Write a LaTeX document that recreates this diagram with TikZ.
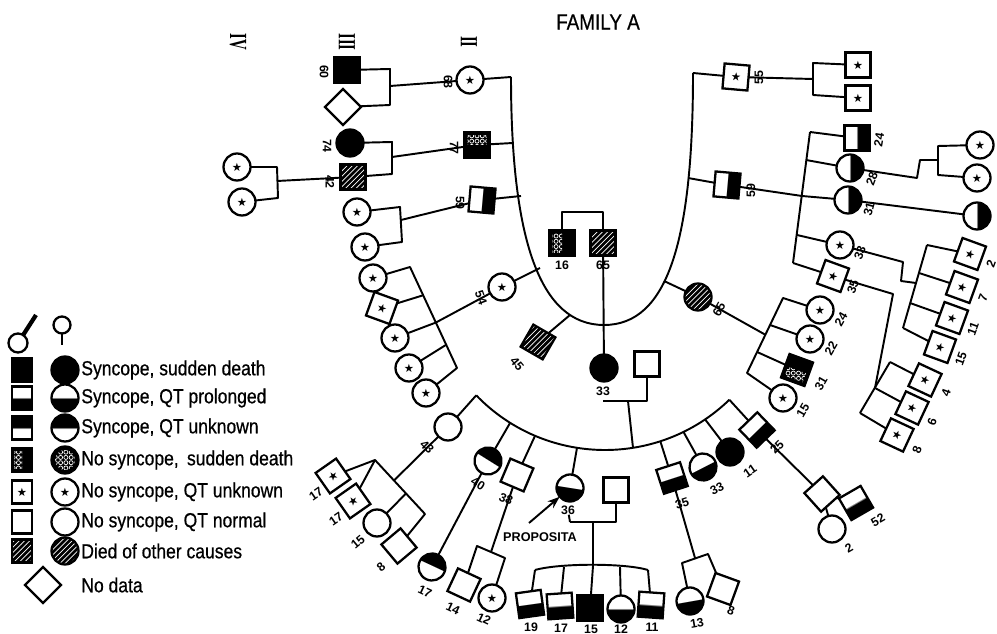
\documentclass[tikz,border=0pt]{standalone}
\usepackage{fontspec}
\setmainfont{Liberation Sans}
\newfontfamily\symfont{DejaVu Sans}
\newfontfamily\legfont{Liberation Sans}[FakeStretch=0.86, FakeBold=0.6]
\newfontfamily\genfont{Liberation Serif}
\usetikzlibrary{arrows.meta,shapes.geometric,patterns,patterns.meta,calc}

% half filled symbols
\pgfdeclareverticalshading{botblack}{100bp}{color(0bp)=(black); color(49.9bp)=(black); color(50.1bp)=(white); color(100bp)=(white)}
\pgfdeclareverticalshading{topblack}{100bp}{color(0bp)=(white); color(49.9bp)=(white); color(50.1bp)=(black); color(100bp)=(black)}

\tikzdeclarepattern{
  name=rings,
  type=uncolored,
  bottom left={(-.5pt,-.5pt)},
  top right={(3.5pt,3.5pt)},
  tile size={(3pt,3pt)},
  code={\draw[line width=.4pt] (1.5pt,1.5pt) circle [radius=1.15pt];}
}

\newcommand{\st}{{\symfont\fontsize{6.5}{6.5}\selectfont ★}}
\newcommand{\hexleft}[1]{\fill[pattern=rings, pattern color=white]
  ($(#1.north west)!.12!(#1.south east)$) -- ($(#1.north)!.12!(#1.south)$) --
  ($(#1.south)!.12!(#1.north)$) -- ($(#1.south west)!.12!(#1.north east)$) -- cycle;}
\newcommand{\gennum}[1]{\scalebox{0.6}[1]{#1}}

\begin{document}
\begin{tikzpicture}[x=0.02cm, y=0.02cm, yscale=-1,
    sym/.style={draw, line width=1.3pt, inner sep=0pt, outer sep=0pt},
    sq/.style={sym, rectangle, minimum size=0.5cm},
    legsq/.style={sym, rectangle, minimum width=0.4cm, minimum height=0.46cm},
    ci/.style={sym, circle, minimum size=0.54cm},
    dm/.style={sym, diamond, minimum size=0.72cm},
    dead/.style={fill=black},
    qtp/.style={shade, shading=botblack},
    qtu/.style={shade, shading=topblack},
    hex/.style={fill=black},
    other/.style={preaction={fill=black}, pattern=north east lines, pattern color=white},
    tilt/.style={rotate=#1, shading angle=#1},
    lab/.style={font=\bfseries\fontsize{7}{7}\selectfont, inner sep=0pt},
    gen/.style={font=\genfont\bfseries\fontsize{14}{14}\selectfont, inner sep=0pt, rotate=-90},
    link/.style={line width=1.1pt, line join=round},
    legtext/.style={anchor=west, font=\legfont\fontsize{11.6}{13}\selectfont, inner sep=0pt}
  ]
  \useasboundingbox (0,0) rectangle (997,634);

  % title and generations
  \node[font=\legfont\fontsize{12.5}{13}\selectfont] (title) at (598,22) {FAMILY A};
  \node[gen] (gIV) at (238,42) {\gennum{IV}};
  \node[gen] (gIII) at (347,42) {\gennum{III}};
  \node[gen] (gII) at (469,42) {\gennum{II}};

  % legend
  \node[sym, circle, minimum size=0.38cm] (lgm) at (18,343) {};
  \coordinate (lgmt) at (36,315);
  \draw[line width=2.4pt] (lgm) -- (lgmt);
  \node[sym, circle, minimum size=0.34cm] (lgf) at (62,325) {};
  \coordinate (lgfb) at (62,345);
  \draw[link] (lgf) -- (lgfb);
  \node[legsq, dead] (ls1) at (22,370) {};
  \node[ci, dead] (lc1) at (65,370) {};
  \node[legtext] (lt1) at (81,370) {Syncope, sudden death};
  \node[legsq, qtp] (ls2) at (22,398) {};
  \node[ci, qtp] (lc2) at (65,398) {};
  \node[legtext] (lt2) at (81,398) {Syncope, QT prolonged};
  \node[legsq, qtu] (ls3) at (22,428) {};
  \node[ci, qtu] (lc3) at (65,428) {};
  \node[legtext] (lt3) at (81,428) {Syncope, QT unknown};
  \node[legsq, hex] (ls4) at (22,460) {};
  \hexleft{ls4}
  \node[ci, hex] (lc4) at (65,460) {};
  \fill[pattern=rings, pattern color=white] (lc4) circle [radius=10];
  \node[legtext] (lt4) at (81,460) {No syncope,\, sudden death};
  \node[legsq] (ls5) at (22,492) {\st};
  \node[ci] (lc5) at (65,492) {\st};
  \node[legtext] (lt5) at (81,492) {No syncope, QT unknown};
  \node[legsq] (ls6) at (22,522) {};
  \node[ci] (lc6) at (65,522) {};
  \node[legtext] (lt6) at (81,522) {No syncope, QT normal};
  \node[legsq, other] (ls7) at (22,551) {};
  \node[ci, other] (lc7) at (65,551) {};
  \node[legtext] (lt7) at (81,551) {Died of other causes};
  \node[dm] (ld8) at (43,585) {};
  \node[legtext] (lt8) at (81,585) {No data};

  % generation I and the U of generation II
  \node[sq, hex] (p16) at (562,243) {};
  \hexleft{p16}
  \node[sq, other] (p65) at (603,243) {};
  \coordinate (m1) at (583,212);
  \draw[link] (p16.north) |- (m1) -| (p65.north);
  \node[lab] (l16) at (562,265) {16};
  \node[lab] (l65) at (603,265) {65};
  \coordinate (uL) at (511,77);
  \coordinate (ub) at (604,325);
  \coordinate (uR) at (693,73);
  \draw[link] (uL) .. controls (511,240) and (540,325) .. (ub)
                   .. controls (668,325) and (693,240) .. (uR);
  \coordinate (u74) at (513,143);
  \coordinate (u59) at (521,196);
  \coordinate (u54) at (540,268);
  \coordinate (u45) at (570,315);
  \coordinate (u59r) at (688,178);
  \coordinate (u62) at (664,281);

  % left side, generations II to IV
  \node[ci] (p68) at (470,80) {\st};
  \node[lab, rotate=-90] (l68) at (448,82) {68};
  \node[sq, dead] (pA) at (347,70) {};
  \node[lab, rotate=-90] (lA) at (324,72) {60};
  \node[dm] (dA) at (343,107) {};
  \coordinate (cA1) at (390,69);
  \coordinate (cA2) at (390,105);
  \coordinate (cA3) at (390,86);
  \draw[link] (pA) -- (cA1) -- (cA2) -- (dA);
  \draw[link] (cA3) -- (p68);
  \draw[link] (p68) -- (uL);

  \node[sq, hex, rotate=-90] (p77) at (477,145) {};
  \hexleft{p77}
  \node[lab, rotate=-90] (l77) at (454,148) {77};
  \node[ci, dead] (pB) at (350,143) {};
  \node[lab, rotate=-90] (lB) at (327,146) {74};
  \node[sq, other] (pB2) at (353,177) {};
  \node[lab, rotate=-90] (lB2) at (330,182) {42};
  \coordinate (cB1) at (392,142);
  \coordinate (cB2) at (392,174);
  \coordinate (cB3) at (392,157);
  \draw[link] (pB) -- (cB1) -- (cB2) -- (pB2);
  \draw[link] (cB3) -- (p77);
  \draw[link] (p77) -- (u74);
  \node[ci] (q1) at (237,167) {\st};
  \node[ci] (q2) at (242,202) {\st};
  \coordinate (cC1) at (277,167);
  \coordinate (cC2) at (278,198);
  \coordinate (cC3) at (277,181);
  \draw[link] (q1) -- (cC1) -- (cC2) -- (q2);
  \draw[link] (cC3) -- (pB2);

  \node[sq, qtu, tilt=-95] (p59) at (482,200) {};
  \node[lab, rotate=-90] (l59) at (460,203) {59};
  \node[ci] (q3) at (357,212) {\st};
  \node[ci] (q4) at (365,247) {\st};
  \coordinate (cD1) at (400,207);
  \coordinate (cD2) at (402,242);
  \coordinate (cD3) at (401,220);
  \draw[link] (q3) -- (cD1) -- (cD2) -- (q4);
  \draw[link] (cD3) -- (p59);
  \draw[link] (p59) -- (u59);

  \node[ci] (p54) at (502,287) {\st};
  \node[lab, rotate=-70] (l54) at (481,298) {54};
  \draw[link] (p54) -- (u54);
  \node[ci] (q5) at (373,278) {\st};
  \node[sq, rotate=-20] (q6) at (382,308) {\st};
  \node[ci] (q7) at (395,338) {\st};
  \node[ci] (q8) at (409,368) {\st};
  \node[ci] (q9) at (426,393) {\st};
  \coordinate (g0) at (410,267);
  \coordinate (g1) at (457,368);
  \draw[link] (q5) -- (g0) -- (g1) -- (q9);
  \path (g0) -- (g1) coordinate[pos=.28] (g6) coordinate[pos=.55] (g7) coordinate[pos=.77] (g8);
  \draw[link] (g6) -- (q6);
  \draw[link] (g7) -- (q7);
  \draw[link] (g8) -- (q8);
  \draw[link] (p54) -- (g7);

  \node[dm, other, rotate=15] (p45) at (538,342) {};
  \node[lab, rotate=-50] (l45) at (517,364) {45};
  \draw[link] (p45) -- (u45);

  % right side, generations II to IV
  \node[sq, rotate=-5] (p55) at (736,77) {\st};
  \node[lab, rotate=90] (l55) at (759,78) {55};
  \draw[link] (uR) -- (p55);
  \coordinate (b55) at (813,79);
  \coordinate (b55t) at (813,63);
  \coordinate (b55b) at (813,95);
  \node[sq] (c55a) at (858,65) {\st};
  \node[sq] (c55b) at (858,98) {\st};
  \draw[link] (p55) -- (b55);
  \draw[link] (c55a) -- (b55t) -- (b55b) -- (c55b);

  \node[sq, qtu, tilt=-95] (p59r) at (727,185) {};
  \node[lab, rotate=90] (l59r) at (751,191) {59};
  \draw[link] (u59r) -- (p59r);
  \coordinate (s59t) at (810,132);
  \coordinate (s59b) at (793,263);
  \coordinate (j28) at (806,160);
  \coordinate (j3) at (802,196);
  \coordinate (j33) at (797,235);
  \draw[link] (s59t) -- (s59b);
  \draw[link] (p59r) -- (j3);
  \node[sq, qtu, tilt=-90] (c24) at (857,138) {};
  \node[ci, qtu, tilt=-90] (c28) at (850,168) {};
  \node[ci, qtu, tilt=-90] (c3) at (848,200) {};
  \node[ci] (c33r) at (840,245) {\st};
  \node[sq, rotate=-20] (c35r) at (833,276) {\st};
  \draw[link] (s59t) -- (c24);
  \draw[link] (j28) -- (c28);
  \draw[link] (j3) -- (c3);
  \draw[link] (j33) -- (c33r);
  \draw[link] (s59b) -- (c35r);
  \node[lab, rotate=80] (l24) at (879,140) {24};
  \node[lab, rotate=70] (l28) at (872,179) {28};
  \node[lab, rotate=75] (l3) at (869,209) {31};
  \node[lab, rotate=70] (l33r) at (860,253) {33};
  \node[lab, rotate=70] (l35r) at (853,287) {35};

  \coordinate (m28a) at (917,178);
  \coordinate (m28b) at (920,160);
  \coordinate (m28c) at (938,160);
  \coordinate (b28t) at (938,146);
  \coordinate (b28b) at (938,175);
  \node[ci] (c28a) at (980,145) {\st};
  \node[ci] (c28b) at (977,178) {\st};
  \draw[link] (c28) -- (m28a) -- (m28b) -- (m28c);
  \draw[link] (c28a) -- (b28t) -- (b28b) -- (c28b);
  \node[ci, qtu, tilt=-90] (c3b) at (977,216) {};
  \draw[link] (c3) -- (c3b);

  \coordinate (m33r1) at (903,262);
  \coordinate (m33r2) at (901,281);
  \coordinate (s33t) at (927,245);
  \coordinate (s33b) at (903,328);
  \coordinate (j7) at (919,273);
  \coordinate (j11) at (910,303);
  \coordinate (j33r) at (916,283);
  \draw[link] (c33r) -- (m33r1) -- (m33r2) -- (j33r);
  \draw[link] (s33t) -- (s33b);
  \node[sq, rotate=-20] (c2r) at (970,254) {\st};
  \node[sq, rotate=-20] (c7r) at (962,287) {\st};
  \node[sq, rotate=-20] (c11r) at (952,318) {\st};
  \node[sq, rotate=-20] (c15r) at (940,347) {\st};
  \draw[link] (s33t) -- (c2r);
  \draw[link] (j7) -- (c7r);
  \draw[link] (j11) -- (c11r);
  \draw[link] (s33b) -- (c15r);
  \node[lab, rotate=70] (l2r) at (991,264) {2};
  \node[lab, rotate=70] (l7r) at (983,298) {7};
  \node[lab, rotate=70] (l11r) at (973,329) {11};
  \node[lab, rotate=70] (l15r) at (961,359) {15};

  \coordinate (m35r) at (893,294);
  \coordinate (s35t) at (890,362);
  \coordinate (s35b) at (860,413);
  \coordinate (j35) at (875,388);
  \draw[link] (c35r) -- (m35r) -- (j35);
  \draw[link] (s35t) -- (s35b);
  \node[sq, rotate=-25] (c4) at (925,380) {\st};
  \node[sq, rotate=-25] (c6) at (912,408) {\st};
  \node[sq, rotate=-25] (c8r) at (897,435) {\st};
  \draw[link] (s35t) -- (c4);
  \draw[link] (j35) -- (c6);
  \draw[link] (s35b) -- (c8r);
  \node[lab, rotate=70] (l4) at (946,393) {4};
  \node[lab, rotate=70] (l6) at (932,422) {6};
  \node[lab, rotate=70] (l8r) at (917,450) {8};

  \node[ci, other] (p65r) at (698,297) {};
  \node[lab, rotate=60] (l65r) at (719,309) {65};
  \draw[link] (u62) -- (p65r);
  \coordinate (h0) at (783,298);
  \coordinate (h1) at (747,373);
  \node[ci] (r24) at (820,310) {\st};
  \node[ci] (r22) at (810,339) {\st};
  \node[sq, hex, rotate=70] (r31) at (797,370) {};
  \hexleft{r31}
  \node[ci] (r15) at (783,398) {\st};
  \draw[link] (r24) -- (h0) -- (h1) -- (r15);
  \path (h0) -- (h1) coordinate[pos=.36] (h22) coordinate[pos=.49] (h65) coordinate[pos=.72] (h31);
  \draw[link] (h22) -- (r22);
  \draw[link] (h31) -- (r31);
  \draw[link] (p65r) -- (h65);
  \node[lab, rotate=60] (lr24) at (841,319) {24};
  \node[lab, rotate=60] (lr22) at (831,348) {22};
  \node[lab, rotate=60] (lr31) at (821,383) {31};
  \node[lab, rotate=60] (lr15) at (803,410) {15};

  % generation III: 33 and spouse
  \node[ci, dead] (p33) at (604,368) {};
  \draw[link] (p65) -- (p33);
  \node[lab] (l33) at (603,391) {33};
  \node[sq] (s33) at (647,364) {};
  \coordinate (m33) at (603,401);
  \coordinate (d33) at (628,401);
  \draw[link] (m33) -| (s33.south);

  % generation IV arc
  \coordinate (ac) at (605,271);
  \path (ac) ++(136:179) coordinate (aL);
  \path (ac) ++(46:179) coordinate (aR);
  \path (ac) ++(122:179) coordinate (a40);
  \path (ac) ++(113:179) coordinate (a38);
  \path (ac) ++(99:179) coordinate (a36);
  \path (ac) ++(81:179) coordinate (a33d);
  \path (ac) ++(72:179) coordinate (a35);
  \path (ac) ++(64:179) coordinate (a33b);
  \path (ac) ++(56:179) coordinate (a11);
  \draw[link] (aL) arc [start angle=136, end angle=46, radius=179];
  \draw[link] (d33) -- (a33d);

  \node[ci] (p43) at (448,427) {};
  \node[lab, rotate=-45] (l43) at (427,447) {43};
  \node[ci, qtu, tilt=-32] (p40) at (488,461) {};
  \node[lab, rotate=-32] (l40) at (478,484) {40};
  \node[sq, rotate=-23] (p38) at (517,475) {};
  \node[lab, rotate=-23] (l38) at (506,499) {38};
  \node[ci, qtp, tilt=-9] (p36) at (570,488) {};
  \node[lab] (l36) at (568,510) {36};
  \node[sq, qtp, tilt=18] (p35) at (672,478) {};
  \node[lab, rotate=18] (l35) at (682,503) {35};
  \node[ci, qtp, tilt=27] (p33b) at (703,467) {};
  \node[lab, rotate=27] (l33b) at (717,489) {33};
  \node[ci, dead] (p11) at (730,452) {};
  \node[lab, rotate=35] (l11) at (750,471) {11};
  \node[sq, qtp, tilt=44] (p25) at (757,430) {};
  \node[lab, rotate=44] (l25) at (777,447) {25};
  \draw[link] (aL) -- (p43);
  \draw[link] (a40) -- (p40);
  \draw[link] (a38) -- (p38);
  \draw[link] (a36) -- (p36);
  \draw[link] (a35) -- (p35);
  \draw[link] (a33b) -- (p33b);
  \draw[link] (a11) -- (p11);
  \draw[link] (aR) -- (p25);

  % children of 43
  \coordinate (v43) at (375,460);
  \coordinate (e43) at (425,514);
  \node[sq, rotate=35] (c17a) at (333,476) {\st};
  \node[sq, rotate=35] (c17b) at (353,501) {\st};
  \node[ci] (c15) at (377,523) {};
  \node[sq, rotate=40] (c8) at (399,546) {};
  \draw[link] (c17a) -- (v43) -- (e43) -- (c8);
  \draw[link] (v43) -- (c17b);
  \path (v43) -- (e43) coordinate[pos=.38] (j43) coordinate[pos=.62] (j15);
  \draw[link] (p43) -- (j43);
  \draw[link] (j15) -- (c15);
  \node[lab, rotate=35] (l17a) at (316,494) {17};
  \node[lab, rotate=35] (l17b) at (336,519) {17};
  \node[lab, rotate=40] (l15) at (358,542) {15};
  \node[lab, rotate=40] (l8) at (381,567) {8};

  % child of 40
  \node[ci, qtu, tilt=-25] (c17c) at (432,567) {};
  \draw[link] (p40) -- (c17c);
  \node[lab, rotate=-25] (l17c) at (425,592) {17};

  % children of 38
  \coordinate (b38) at (491,552);
  \coordinate (b38l) at (477,546);
  \coordinate (b38r) at (505,558);
  \draw[link] (p38) -- (b38);
  \node[sq, rotate=-25] (c14) at (464,585) {};
  \node[ci] (c12) at (492,598) {\st};
  \draw[link] (c14) -- (b38l) -- (b38r) -- (c12);
  \node[lab, rotate=-25] (l14) at (453,609) {14};
  \node[lab, rotate=-25] (l12) at (484,619) {12};

  % proposita, spouse and children
  \node[font=\bfseries\fontsize{7.2}{8}\selectfont, inner sep=0pt] (prop) at (540,537) {PROPOSITA};
  \coordinate (ar0) at (529,523);
  \draw[link, -{Stealth[length=7pt, width=5pt]}] (ar0) -- (p36);
  \node[sq] (s36) at (616,490) {};
  \coordinate (m36) at (570,522);
  \coordinate (d36) at (593,522);
  \coordinate (k36) at (593,566);
  \draw[link] (l36) -- (m36);
  \draw[link] (m36) -| (s36.south);
  \draw[link] (d36) -- (k36);
  \coordinate (k36l) at (535,570);
  \coordinate (k36r) at (648,570);
  \coordinate (k17) at (564,567);
  \coordinate (k12) at (620,567);
  \draw[link] (k36l) .. controls (560,563) and (625,563) .. (k36r);
  \node[sq, qtp, tilt=8] (c19) at (530,604) {};
  \node[sq, qtp, tilt=4] (c17d) at (560,606) {};
  \node[sq, dead] (c15b) at (590,608) {};
  \node[ci, qtp] (c12b) at (621,609) {};
  \node[sq, qtp, tilt=-4] (c11) at (651,605) {};
  \draw[link] (k36l) -- (c19);
  \draw[link] (k17) -- (c17d);
  \draw[link] (k36) -- (c15b);
  \draw[link] (k12) -- (c12b);
  \draw[link] (k36r) -- (c11);
  \node[lab] (l19) at (531,627) {19};
  \node[lab] (l17d) at (561,628) {17};
  \node[lab] (l15b) at (591,629) {15};
  \node[lab] (l12b) at (621,629) {12};
  \node[lab] (l11b) at (652,627) {11};

  % children of 35
  \coordinate (b35) at (695,558);
  \coordinate (b35l) at (682,563);
  \coordinate (b35r) at (708,554);
  \draw[link] (p35) -- (b35);
  \node[ci, qtp, tilt=10] (c13) at (690,601) {};
  \node[sq, rotate=-20] (c8b) at (723,589) {};
  \draw[link] (c13) -- (b35l) -- (b35r) -- (c8b);
  \node[lab, rotate=10] (l13) at (697,623) {13};
  \node[lab, rotate=-20] (l8b) at (731,611) {8};

  % family of 25
  \node[sq, rotate=42] (s25) at (822,494) {};
  \draw[link] (p25) -- (s25);
  \node[sq, qtp, tilt=30] (c52) at (856,503) {};
  \node[ci] (c2) at (832,529) {};
  \draw[link] (s25) -- (c52);
  \draw[link] (s25) -- (c2);
  \node[lab, rotate=30] (l52) at (878,520) {52};
  \node[lab, rotate=30] (l2) at (849,548) {2};
\end{tikzpicture}
\end{document}
